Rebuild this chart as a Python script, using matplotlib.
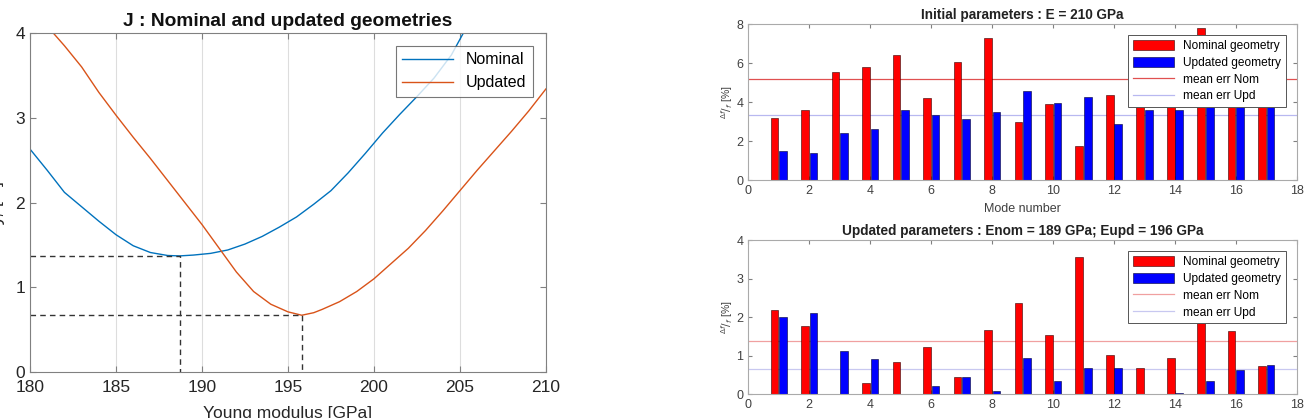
"""
Recreate: J vs Young modulus curves + per-mode frequency error bars.
"""
import matplotlib
matplotlib.use("Agg")
import matplotlib.pyplot as plt
import numpy as np

plt.rcParams["font.family"] = ["Liberation Sans", "DejaVu Sans"]

# ---- left panel: J vs E ----
E_nom = [180.0, 181.0, 182.0, 183.0, 184.0, 185.0, 186.0, 187.0, 188.0, 188.7,
         189.5, 190.5, 191.5, 192.5, 193.5, 194.5, 195.5, 196.5, 197.5, 198.5,
         199.5, 200.5, 201.5, 202.5, 203.5, 204.5, 205.2]
J_nom = [2.63, 2.38, 2.12, 1.95, 1.78, 1.62, 1.49, 1.41, 1.375, 1.37,
         1.38, 1.40, 1.44, 1.51, 1.60, 1.71, 1.83, 1.98, 2.14, 2.35,
         2.58, 2.82, 3.04, 3.25, 3.47, 3.74, 4.0]
E_upd = [181.35, 182.0, 183.0, 184.0, 185.0, 186.0, 187.0, 188.0, 189.0, 190.0,
         191.0, 192.0, 193.0, 194.0, 195.0, 195.8, 196.5, 197.0, 198.0, 199.0,
         200.0, 201.0, 202.0, 203.0, 204.0, 205.0, 206.0, 207.0, 208.0, 209.0,
         210.0]
J_upd = [4.0, 3.85, 3.6, 3.3, 3.03, 2.77, 2.52, 2.26, 2.0, 1.74,
         1.46, 1.18, 0.95, 0.80, 0.71, 0.67, 0.70, 0.74, 0.83, 0.95,
         1.10, 1.28, 1.46, 1.67, 1.90, 2.14, 2.38, 2.61, 2.84, 3.08,
         3.34]
E_opt = [188.7, 195.8]
J_opt = [1.37, 0.67]

# ---- right panels: per-mode errors [%] ----
modes = np.arange(1, 18)
init_nom = [3.18, 3.61, 5.54, 5.82, 6.42, 4.22, 6.04, 7.30, 2.99, 3.89, 1.76,
            4.37, 4.87, 6.0, 7.8, 7.2, 6.8]
init_upd = [1.50, 1.41, 2.41, 2.65, 3.58, 3.34, 3.12, 3.49, 4.58, 3.96, 4.29,
            2.87, 3.58, 3.62, 3.90, 4.2, 4.15]
upd_nom = [2.19, 1.76, 0.0, 0.29, 0.83, 1.23, 0.45, 1.68, 2.36, 1.54, 3.57,
           1.03, 0.68, 0.94, 2.54, 1.65, 0.72]
upd_upd = [2.00, 2.10, 1.12, 0.92, 0.01, 0.21, 0.45, 0.08, 0.94, 0.35, 0.69,
           0.69, 0.01, 0.04, 0.33, 0.62, 0.75]

BLUE = "#0072BD"
ORANGE = "#D95319"
TXT = "#262626"
SPINE = "#808080"

fig = plt.figure(figsize=(13.06, 4.18), dpi=100)

# left
ax = fig.add_axes([0.023, 0.110, 0.395, 0.811])
ax.plot(E_nom, J_nom, color=BLUE, lw=1.0, label="Nominal")
ax.plot(E_upd, J_upd, color=ORANGE, lw=1.0, label="Updated")
for e, j in zip(E_opt, J_opt):
    ax.plot([180, e, e], [j, j, 0], color="#333333", lw=1.0, ls=(0, (4, 3)))
ax.set_xlim(180, 210)
ax.set_ylim(0, 4)
ax.set_xticks(range(180, 211, 5))
ax.set_yticks(range(0, 5))
ax.grid(axis="x", color="#dddddd", lw=0.8)
ax.tick_params(direction="in", top=True, right=True, labelsize=12.5,
               colors=SPINE, labelcolor=TXT, length=4)
ax.tick_params(axis="x", pad=6)
for s in ax.spines.values():
    s.set_color(SPINE)
ax.set_title("J : Nominal and updated geometries", fontsize=13.8,
             fontweight="bold", color="#111111", pad=5)
ax.set_xlabel("Young modulus [GPa]", fontsize=12.5, color=TXT, labelpad=8)
ax.set_ylabel(r"$J_f$ [%]", fontsize=12.5, color=TXT)
ax.yaxis.set_label_coords(-0.045, 0.5)
leg = ax.legend(loc="upper right", fontsize=11.5, fancybox=False,
                edgecolor="#555555", handlelength=3.2, borderaxespad=0.8)
leg.get_frame().set_linewidth(0.8)


def bar_panel(ax, nom, upd, title, ymax, ystep, nom_line, upd_line):
    w = 0.25
    b1 = ax.bar(modes - 0.14, nom, width=w, color="red", edgecolor="#300000",
                lw=0.4, label="Nominal geometry", zorder=2)
    b2 = ax.bar(modes + 0.14, upd, width=w, color="blue", edgecolor="#000030",
                lw=0.4, label="Updated geometry", zorder=2)
    l1 = ax.axhline(np.mean(nom), color=nom_line, lw=0.9,
                    label="mean err Nom", zorder=1)
    l2 = ax.axhline(np.mean(upd), color=upd_line, lw=0.9,
                    label="mean err Upd", zorder=1)
    ax.set_xlim(0, 18)
    ax.set_ylim(0, ymax)
    ax.set_xticks(range(0, 19, 2))
    ax.set_yticks(np.arange(0, ymax + 0.1, ystep))
    ax.tick_params(direction="in", top=True, right=True, labelsize=9,
                   colors=SPINE, labelcolor="#404040", length=3)
    for s in ax.spines.values():
        s.set_color("#aaaaaa")
    ax.set_title(title, fontsize=9.8, fontweight="bold", color="#222222",
                 pad=4)
    ax.set_ylabel(r"$^{\Delta f}/_{f}$ [%]", fontsize=7.5, color="#404040",
                  labelpad=1)
    lg = ax.legend([b1, b2, l1, l2],
                   ["Nominal geometry", "Updated geometry",
                    "mean err Nom", "mean err Upd"],
                   loc="upper right", fontsize=8.6, fancybox=False,
                   framealpha=1, edgecolor="#555555", handlelength=3.4,
                   handleheight=0.9, borderaxespad=0.9, labelspacing=0.4,
                   borderpad=0.4)
    lg.get_frame().set_linewidth(0.7)
    lg.set_zorder(5)


ax1 = fig.add_axes([0.573, 0.569, 0.420, 0.373])
bar_panel(ax1, init_nom, init_upd, "Initial parameters : E = 210 GPa", 8, 2,
          "#e05050", "#b8b8f0")
ax1.set_xlabel("Mode number", fontsize=9, color="#404040", labelpad=4)

ax2 = fig.add_axes([0.573, 0.057, 0.420, 0.368])
bar_panel(ax2, upd_nom, upd_upd,
          "Updated parameters : Enom = 189 GPa; Eupd = 196 GPa", 4, 1,
          "#f0a0a0", "#c8c8f0")

fig.savefig("out.png", dpi=100)
